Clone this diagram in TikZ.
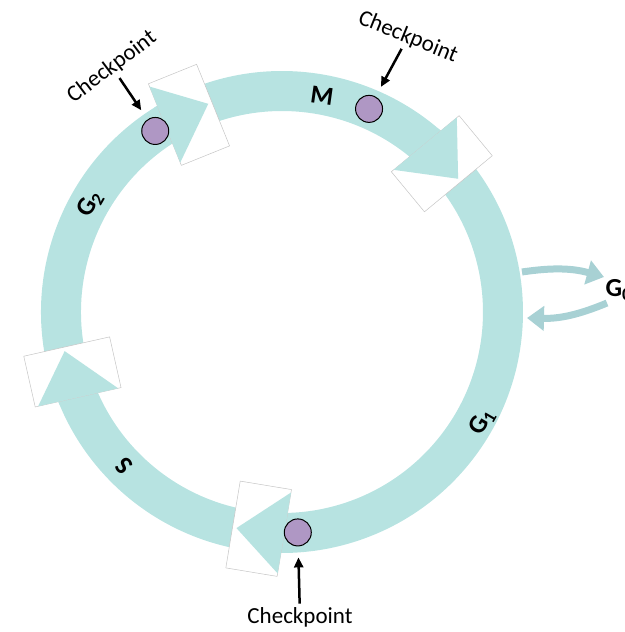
\documentclass[tikz,border=0pt]{standalone}
\usepackage{fontspec}
\setmainfont{Carlito}
\usetikzlibrary{arrows.meta}
\definecolor{ringteal}{RGB}{183,227,225}
\definecolor{gzeroteal}{RGB}{168,209,212}
\definecolor{cpviolet}{RGB}{175,151,196}

\begin{document}
\begin{tikzpicture}[x=1pt, y=1pt,
    band/.style={line width=40pt, ringteal},
    gapbox/.style={fill=white, draw=gray!45, line width=0.5pt},
    headtip/.style={fill=ringteal},
    phase/.style={font=\fontsize{26}{30}\selectfont\bfseries},
    cptext/.style={font=\fontsize{23}{27}\selectfont},
    cpdot/.style={circle, draw=black, line width=1pt, fill=cpviolet, minimum size=27pt, inner sep=0pt},
    cparrow/.style={-{Triangle[length=10pt,width=9pt]}, line width=2.5pt, shorten >=11pt},
    gzeroarrow/.style={gzeroteal, line width=7pt, -{Triangle[length=17pt,width=24pt]}}]
  \useasboundingbox (-282,-320) rectangle (342,312);

  % Ring: four phases, clockwise
  \draw[band] (122:221) arc[start angle=122, end angle=46.6, radius=221];       % M
  \draw[band] (49.6:221) arc[start angle=49.6, end angle=-92.4, radius=221];    % G1
  \draw[band] (-89.4:221) arc[start angle=-89.4, end angle=-160.3, radius=221]; % S
  \draw[band] (202.7:221) arc[start angle=202.7, end angle=119, radius=221];    % G2

  % gaps and arrow heads
  \foreach \a in {49.6, -89.4, 202.7, 122} {
    \begin{scope}[shift={(\a:221)}, rotate=\a-100]
      \draw[gapbox] (0,-44) rectangle (52,44);
      \fill[headtip] (0,41) -- (48,3) -- (0,-41) -- cycle;
    \end{scope}
  }

  % phase names
  \node[phase, rotate=-8] (m) at (40,216) {M};
  \node[phase, rotate=60] (g2) at (-192,108) {G\textsubscript{2}};
  \node[phase, rotate=134] (s) at (-158,-154) {S};
  \node[phase, rotate=60] (g1) at (200,-110) {G\textsubscript{1}};
  \node[phase, anchor=west] (g0) at (320,22) {G\textsubscript{0}};

  % G0 exit and return
  \coordinate (g1out) at (240,40);
  \coordinate (g0up) at (322,35);
  \coordinate (g0down) at (325,9);
  \coordinate (g1in) at (245,-6);
  \draw[gzeroarrow] (g1out) to[bend left=12] (g0up);
  \draw[gzeroarrow] (g0down) to[bend left=12] (g1in);

  % checkpoints
  \node[cpdot] (dotg2) at (125:221) {};
  \node[cpdot] (dotm) at (66.8:221) {};
  \node[cpdot] (dotg1) at (-85.9:221) {};
  \node[cptext, rotate=37] (cpg2) at (-170,245) {Checkpoint};
  \node[cptext, rotate=-22] (cpm) at (126,275) {Checkpoint};
  \node[cptext] (cpg1) at (18,-305) {Checkpoint};
  \draw[cparrow] (cpg2) -- (dotg2);
  \draw[cparrow] (cpm) -- (dotm);
  \draw[cparrow] (cpg1) -- (dotg1);
\end{tikzpicture}
\end{document}
